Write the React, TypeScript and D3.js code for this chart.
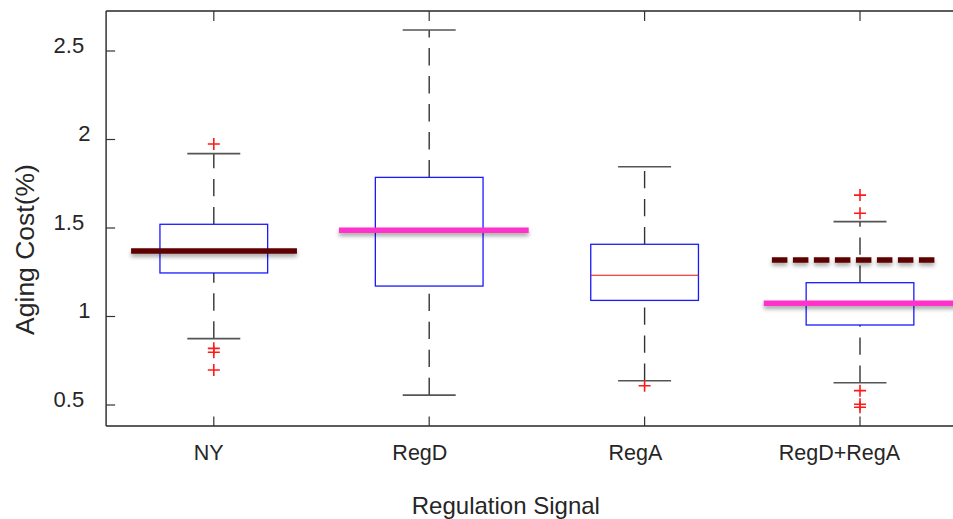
import React, { useEffect, useRef } from "react";
import * as d3 from "d3";

// ---- data ----
const categories = ["NY", "RegD", "RegA", "RegD+RegA"];
const whiskerLow = [0.875, 0.556, 0.637, 0.626];
const q1 = [1.246, 1.172, 1.091, 0.952];
const median = [1.37, 1.487, 1.233, 1.075];
const q3 = [1.521, 1.786, 1.408, 1.191];
const whiskerHigh = [1.92, 2.619, 1.846, 1.536];
const outliers = [
  [1.975, 0.82, 0.798, 0.698],
  [],
  [0.609],
  [1.686, 1.583, 0.581, 0.504, 0.487],
];
const yTicks = [0.5, 1, 1.5, 2, 2.5];
const yTickLabels = ["0.5", "1", "1.5", "2", "2.5"];
// reference (target) lines: value and extent in category units
const refValue = [1.37, 1.487, 1.075, 1.319];
const refFrom = [0.616, 1.581, 3.553, 3.591];
const refTo = [1.386, 2.462, 4.5, 4.352];
const refKind = ["dark", "pink", "pink", "darkDashed"];
const xTitle = "Regulation Signal";
const yTitle = "Aging Cost(%)";

const FONT = "'Liberation Sans', Arial, Helvetica, sans-serif";
const refStyle: Record<string, { color: string; dash: string | null }> = {
  dark: { color: "#5e0000", dash: null },
  pink: { color: "#ff33cc", dash: null },
  darkDashed: { color: "#5e0000", dash: "15.5 5.5" },
};

export default function App() {
  const ref = useRef<SVGSVGElement>(null);

  useEffect(() => {
    const svg = d3.select(ref.current);
    svg.selectAll("*").remove();

    const plotLeft = 106.1;
    const plotRight = 967.7;
    const plotTop = 11;
    const plotBottom = 426;

    const x = d3.scaleLinear().domain([0.5, 4.5]).range([plotLeft, plotRight]);
    const y = d3.scaleLinear().domain([0.5, 2.5]).range([405, 51]);

    const defs = svg.append("defs");
    const f = defs
      .append("filter")
      .attr("id", "shadow")
      .attr("filterUnits", "userSpaceOnUse")
      .attr("x", 0)
      .attr("y", 0)
      .attr("width", 1000)
      .attr("height", 519);
    f.append("feDropShadow")
      .attr("dx", 0)
      .attr("dy", 3)
      .attr("stdDeviation", 2.2)
      .attr("flood-color", "#000")
      .attr("flood-opacity", 0.35);

    const g = svg.append("g");

    // boxes
    categories.forEach((c, i) => {
      const cx = x(i + 1);
      const bw = x(1.25) - x(1);
      const cw = x(1.123) - x(1);
      const wg = g.append("g");
      // whiskers (drawn from lower value upward)
      wg.append("line")
        .attr("x1", cx).attr("x2", cx)
        .attr("y1", y(whiskerLow[i])).attr("y2", y(q1[i]))
        .attr("stroke", "#333").attr("stroke-width", 1.4)
        .attr("stroke-dasharray", "17.3 10.7");
      wg.append("line")
        .attr("x1", cx).attr("x2", cx)
        .attr("y1", y(q3[i])).attr("y2", y(whiskerHigh[i]))
        .attr("stroke", "#333").attr("stroke-width", 1.4)
        .attr("stroke-dasharray", "17.3 10.7");
      // caps
      [whiskerLow[i], whiskerHigh[i]].forEach((v) => {
        wg.append("line")
          .attr("x1", cx - cw).attr("x2", cx + cw)
          .attr("y1", y(v)).attr("y2", y(v))
          .attr("stroke", "#555").attr("stroke-width", 1.6);
      });
      // box
      wg.append("rect")
        .attr("x", cx - bw).attr("width", 2 * bw)
        .attr("y", y(q3[i])).attr("height", y(q1[i]) - y(q3[i]))
        .attr("fill", "none").attr("stroke", "#1a1aff").attr("stroke-width", 1.3);
      // median
      wg.append("line")
        .attr("x1", cx - bw).attr("x2", cx + bw)
        .attr("y1", y(median[i])).attr("y2", y(median[i]))
        .attr("stroke", "#e81010").attr("stroke-width", 1.2);
      // outliers
      outliers[i].forEach((v) => {
        wg.append("path")
          .attr("d", `M${cx - 6},${y(v)}H${cx + 6}M${cx},${y(v) - 6}V${y(v) + 6}`)
          .attr("stroke", "#ff1a1a").attr("stroke-width", 1.6).attr("fill", "none");
      });
    });

    // axes frame
    const frame = svg.append("g").attr("stroke", "#262626").attr("stroke-width", 1.4).attr("fill", "none");
    frame.append("line").attr("x1", plotLeft).attr("x2", plotRight).attr("y1", plotTop).attr("y2", plotTop);
    frame.append("line").attr("x1", plotLeft).attr("x2", plotRight).attr("y1", plotBottom).attr("y2", plotBottom);
    frame.append("line").attr("x1", plotLeft).attr("x2", plotLeft).attr("y1", plotTop).attr("y2", plotBottom);

    // ticks
    const ticks = svg.append("g").attr("stroke", "#333").attr("stroke-width", 1.2);
    categories.forEach((c, i) => {
      const cx = x(i + 1);
      ticks.append("line").attr("x1", cx).attr("x2", cx).attr("y1", plotBottom).attr("y2", plotBottom - 9.5);
      ticks.append("line").attr("x1", cx).attr("x2", cx).attr("y1", plotTop).attr("y2", plotTop + 10);
    });
    yTicks.forEach((v) => {
      ticks.append("line").attr("x1", plotLeft).attr("x2", plotLeft + 9).attr("y1", y(v)).attr("y2", y(v));
    });

    // reference lines
    const rl = svg.append("g");
    refValue.forEach((v, i) => {
      const st = refStyle[refKind[i]];
      const line = rl.append("line")
        .attr("x1", x(refFrom[i])).attr("x2", x(refTo[i]))
        .attr("y1", y(v)).attr("y2", y(v))
        .attr("stroke", st.color).attr("stroke-width", 5.5)
        .attr("filter", "url(#shadow)");
      if (st.dash) line.attr("stroke-dasharray", st.dash);
    });

    // labels
    const txt = svg.append("g").attr("font-family", FONT).attr("fill", "#262626");
    categories.forEach((c, i) => {
      const t = txt.append("text")
        .attr("font-size", 21.5)
        .attr("text-anchor", "middle")
        .attr("y", 460)
        .text(c);
      const w = (t.node() as SVGTextElement).getComputedTextLength();
      t.attr("x", x(i + 1) - 0.17 * w);
    });
    yTicks.forEach((v, i) => {
      const t = txt.append("text")
        .attr("font-size", 22)
        .attr("text-anchor", "end")
        .attr("y", y(v) + 1.7)
        .text(yTickLabels[i]);
      const w = (t.node() as SVGTextElement).getComputedTextLength();
      t.attr("x", 94.6 - 0.34 * w);
    });
    const xt = txt.append("text")
      .attr("font-size", 24)
      .attr("text-anchor", "middle")
      .attr("y", 514)
      .text(xTitle);
    const xw = (xt.node() as SVGTextElement).getComputedTextLength();
    xt.attr("x", (plotLeft + plotRight) / 2 - 0.165 * xw);

    const yt = txt.append("text")
      .attr("font-size", 26.5)
      .attr("text-anchor", "middle")
      .text(yTitle);
    yt.attr("transform", `translate(34,${(plotTop + plotBottom) / 2 + 31}) rotate(-90)`);
  }, []);

  return (
    <svg
      ref={ref}
      width={953}
      height={519}
      style={{ position: "absolute", left: 0, top: 0, background: "#fff" }}
    />
  );
}
